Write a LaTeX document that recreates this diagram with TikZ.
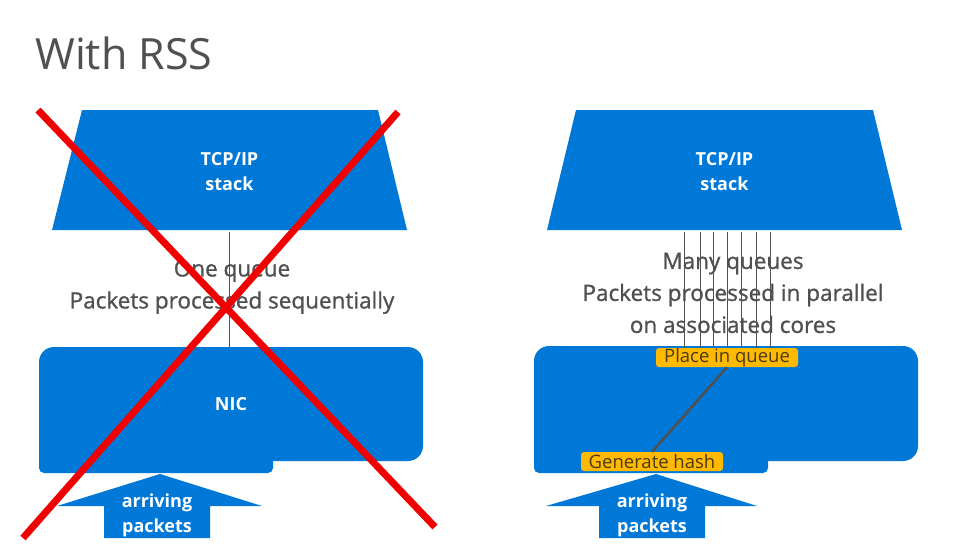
\documentclass[tikz,border=0pt]{standalone}
\usepackage{fontspec}
\setmainfont{Open Sans}
\newfontfamily\medf[FakeBold=1.0]{Open Sans}
\usetikzlibrary{calc}
\definecolor{msblue}{HTML}{0078D7}
\definecolor{xred}{HTML}{F00000}
\definecolor{lblyellow}{HTML}{FFB900}
\definecolor{txtgray}{HTML}{505050}
\definecolor{lbltext}{HTML}{4A3C14}
\begin{document}
\begin{tikzpicture}[x=1pt,y=-1pt,
  inbox/.style={inner sep=0, text=white, align=center, font=\bfseries\fontsize{18}{25}\selectfont},
  caption/.style={inner sep=0, text=txtgray, align=center, font=\medf\fontsize{22.5}{32}\selectfont},
  qline/.style={draw=txtgray, line width=0.6pt},
  tag/.style={fill=lblyellow, rounded corners=3pt, text=lbltext, font=\fontsize{18.5}{19}\selectfont, inner sep=0, minimum height=19, minimum width=142},
  hashline/.style={draw=txtgray, line width=2.5pt},
  cross/.style={draw=xred, line width=7pt},
]
\useasboundingbox (0,0) rectangle (979,551);
\fill[white] (0,0) rectangle (979,551);

% title
\node[anchor=base west, text=txtgray, font=\fontsize{43}{48}\selectfont, inner sep=0] (title) at (35,70) {With RSS};

% ---------- left side ----------
\fill[msblue] (82,110) -- (378,110) -- (407,230) -- (52,230) -- cycle;
\node[inbox, minimum width=355, minimum height=120] (stackL) at (229.5,172) {TCP/IP\\stack};
\fill[msblue, rounded corners=15] (39,347) rectangle (423,461);
\fill[msblue, rounded corners=5] (39,400) rectangle (273,473);
\node[inbox, minimum width=384, minimum height=114] (nicL) at (231,404) {NIC};
\node[caption] (capL) at (232,287) {One queue\\Packets processed sequentially};
\draw[qline] (stackL.south) -- (stackL.south |- nicL.north);
\fill[msblue] (160,474) -- (262,506) -- (210,506) -- (210,538) -- (104,538) -- (104,506) -- (57,506) -- cycle;
\node[inbox] (arrL) at (157,515) {arriving\\packets};

% ---------- right side ----------
\fill[msblue] (576,110) -- (873,110) -- (902,230) -- (547,230) -- cycle;
\node[inbox, minimum width=355, minimum height=120] (stackR) at (724.5,172) {TCP/IP\\stack};
\fill[msblue, rounded corners=15] (534,346) rectangle (918,461);
\fill[msblue, rounded corners=5] (534,400) rectangle (768,473);
\node[caption] (capR) at (733,293) {Many queues\\Packets processed in parallel\\on associated cores};
\node[tag] (place) at (727,357.5) {Place in queue};
\node[tag] (hash) at (652,461.5) {Generate hash};
\foreach \dx [count=\i] in {-43,-27,-14,0,14,29,43} {
  \coordinate (q\i) at ($(place.north)+(\dx,0)$);
  \draw[qline] (q\i) -- (q\i |- stackR.south);
}
\draw[hashline] (place.south) -- (hash.north);
\fill[msblue] (656,474) -- (757,506) -- (705,506) -- (705,538) -- (599,538) -- (599,506) -- (546,506) -- cycle;
\node[inbox] (arrR) at (652,515) {arriving\\packets};

% ---------- red cross ----------
\draw[cross] (38,110) -- (435,527);
\draw[cross] (398,112) -- (23,538);
\end{tikzpicture}
\end{document}
